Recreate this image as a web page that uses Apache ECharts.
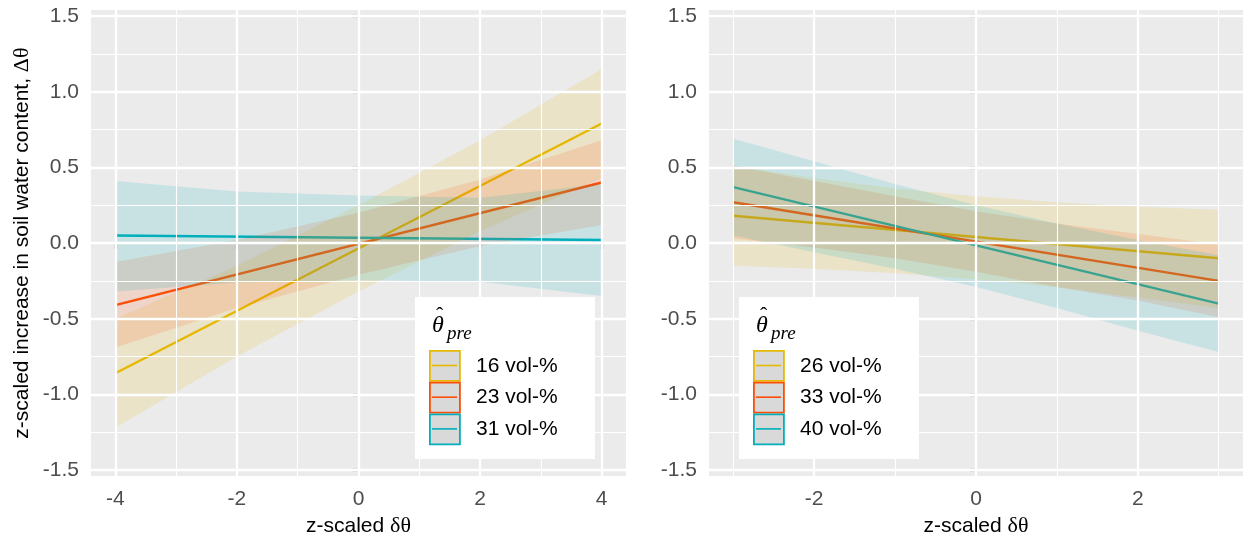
<!DOCTYPE html>
<html>
<head>
<meta charset="utf-8">
<script src="https://cdn.jsdelivr.net/npm/echarts@6/dist/echarts.min.js"></script>
<style>
html,body{margin:0;padding:0;background:#fff;}
#chart{width:1244px;height:542px;}
</style>
</head>
<body>
<div id="chart"></div>
<script>
// ---------------- data ----------------
const yTicks = [-1.5, -1.0, -0.5, 0.0, 0.5, 1.0, 1.5];
const yMinor = [-1.25, -0.75, -0.25, 0.25, 0.75, 1.25];
const leftXTicks = [-4, -2, 0, 2, 4];
const leftXMinor = [-3, -1, 1, 3];
const rightXTicks = [-2, 0, 2];
const rightXMinor = [-3, -1, 1, 3];

const leftNames = ['16 vol-%', '23 vol-%', '31 vol-%'];
const rightNames = ['26 vol-%', '33 vol-%', '40 vol-%'];
const colors = ['#E7B800', '#FC4E07', '#00AFBB'];

// left panel: fitted lines (end points) and confidence ribbons
const leftLineX = [-4, 4];
const left16 = [-0.86, 0.79];
const left23 = [-0.41, 0.40];
const left31 = [0.05, 0.02];
const leftRibX = [-4, -2, 0, 2, 4];
const left16Lo = [-1.22, -0.75, -0.32, 0.08, 0.43];
const left16Hi = [-0.50, -0.15, 0.25, 0.68, 1.15];
const left23Lo = [-0.69, -0.43, -0.21, -0.02, 0.12];
const left23Hi = [-0.125, 0.02, 0.20, 0.42, 0.68];
const left31Lo = [-0.32, -0.26, -0.245, -0.255, -0.35];
const left31Hi = [0.41, 0.34, 0.315, 0.30, 0.39];

// right panel
const rightLineX = [-3, 3];
const right26 = [0.18, -0.10];
const right33 = [0.27, -0.25];
const right40 = [0.37, -0.40];
const rightRibX = [-3, -2, -1, 0, 1, 2, 3];
const right26Lo = [-0.15, -0.17, -0.20, -0.24, -0.29, -0.36, -0.43];
const right26Hi = [0.51, 0.43, 0.36, 0.31, 0.27, 0.24, 0.22];
const right33Lo = [0.03, -0.03, -0.10, -0.19, -0.29, -0.38, -0.49];
const right33Hi = [0.51, 0.41, 0.31, 0.21, 0.13, 0.06, -0.01];
const right40Lo = [0.05, -0.06, -0.17, -0.29, -0.43, -0.58, -0.72];
const right40Hi = [0.69, 0.54, 0.39, 0.25, 0.13, 0.02, -0.08];

// ---------------- helpers ----------------
const FONT = '"Liberation Sans", Arial, Helvetica, sans-serif';
const SERIF = '"Liberation Serif", "Times New Roman", serif';
function rgba(hex, a) {
  const n = parseInt(hex.slice(1), 16);
  return 'rgba(' + ((n >> 16) & 255) + ',' + ((n >> 8) & 255) + ',' + (n & 255) + ',' + a + ')';
}
function lineSeries(name, xs, ys, color, gi) {
  return {
    type: 'line', name: name, xAxisIndex: gi, yAxisIndex: gi, z: 2,
    data: xs.map((x, i) => [x, ys[i]]),
    showSymbol: false, silent: true, animation: false,
    lineStyle: { color: color, width: 2.4 }, itemStyle: { color: color }
  };
}
function ribbonSeries(xs, lo, hi, color, gi) {
  return {
    type: 'custom', xAxisIndex: gi, yAxisIndex: gi, z: 3, silent: true, animation: false,
    data: xs.map((x, i) => [x, lo[i], hi[i]]),
    encode: { x: 0, y: [1, 2] },
    renderItem: function (params, api) {
      if (params.dataIndex !== 0) return;
      const pts = [];
      for (let i = 0; i < xs.length; i++) pts.push(api.coord([xs[i], hi[i]]));
      for (let i = xs.length - 1; i >= 0; i--) pts.push(api.coord([xs[i], lo[i]]));
      return { type: 'polygon', shape: { points: pts }, style: { fill: rgba(color, 0.15) } };
    }
  };
}
function gridSeries(gi, xMajor, xMinor) {
  const maj = { color: '#FFFFFF', width: 2.3, type: 'solid' };
  const min = { color: '#FFFFFF', width: 1.1, type: 'solid' };
  const d = [];
  yMinor.forEach(v => d.push({ yAxis: v, lineStyle: min }));
  xMinor.forEach(v => d.push({ xAxis: v, lineStyle: min }));
  yTicks.forEach(v => d.push({ yAxis: v, lineStyle: maj }));
  xMajor.forEach(v => d.push({ xAxis: v, lineStyle: maj }));
  return {
    type: 'line', xAxisIndex: gi, yAxisIndex: gi, z: 1, silent: true, animation: false,
    data: [[0, 0]], showSymbol: false, lineStyle: { opacity: 0 },
    markLine: { silent: true, symbol: ['none', 'none'], label: { show: false }, animation: false, data: d }
  };
}
const titleRich = {
  s: { color: '#000', fontSize: 21, fontFamily: FONT },
  g: { color: '#000', fontSize: 22, fontFamily: SERIF }
};
function xAxis(gi, min, max, ticks) {
  return {
    type: 'value', gridIndex: gi, min: min, max: max,
    name: '{s|z-scaled }{g|δθ}', nameLocation: 'middle', nameGap: 30,
    nameTextStyle: { color: '#000', fontSize: 21, fontFamily: FONT, rich: titleRich },
    axisLine: { show: false },
    axisTick: { show: true, customValues: ticks, length: 6, lineStyle: { color: '#333333', width: 2.2 } },
    axisLabel: { customValues: ticks, color: '#4D4D4D', fontSize: 21, fontFamily: FONT, margin: 13 },
    splitLine: { show: false }
  };
}
function yAxis(gi, withName) {
  const a = {
    type: 'value', gridIndex: gi, min: -1.54, max: 1.54,
    axisLine: { show: false },
    axisTick: { show: true, customValues: yTicks, length: 6, lineStyle: { color: '#333333', width: 2.2 } },
    axisLabel: { customValues: yTicks, color: '#4D4D4D', fontSize: 21, fontFamily: FONT, margin: 12,
      formatter: v => v.toFixed(1) },
    splitLine: { show: false }
  };
  if (withName) {
    a.name = '{s|z-scaled increase in soil water content, }{g|Δθ}';
    a.nameLocation = 'middle';
    a.nameGap = 58;
    a.nameTextStyle = { color: '#000', fontSize: 21, fontFamily: FONT, rich: titleRich };
  }
  return a;
}
function legendGraphics(x0, names) {
  const g = [];
  g.push({ type: 'rect', left: x0, top: 297, shape: { width: 180, height: 162 }, style: { fill: '#FFFFFF' }, z: 100 });
  g.push({ type: 'text', x: x0 + 17, y: 326, z: 101,
    style: { text: 'θ', font: 'italic 24px ' + SERIF, fill: '#000', textVerticalAlign: 'middle' } });
  g.push({ type: 'text', x: x0 + 21, y: 316, z: 101,
    style: { text: 'ˆ', font: '22px ' + SERIF, fill: '#000', textVerticalAlign: 'middle' } });
  g.push({ type: 'text', x: x0 + 32, y: 334, z: 101,
    style: { text: 'pre', font: 'italic 19px ' + SERIF, fill: '#000', textVerticalAlign: 'middle' } });
  const keyTops = [350, 381.7, 413.4];
  names.forEach((nm, i) => {
    const t = keyTops[i];
    g.push({ type: 'rect', left: x0 + 14, top: t, z: 101,
      shape: { width: 30, height: 30 }, style: { fill: '#D9D9D9', stroke: colors[i], lineWidth: 1.8 } });
    g.push({ type: 'line', z: 102, shape: { x1: x0 + 17, y1: t + 15.5, x2: x0 + 42, y2: t + 15.5 },
      style: { stroke: colors[i], lineWidth: 1.6 } });
    g.push({ type: 'text', x: x0 + 61, y: t + 16, z: 101,
      style: { text: nm, font: '21px ' + FONT, fill: '#000', textVerticalAlign: 'middle' } });
  });
  return g;
}

// ---------------- chart ----------------
const chart = echarts.init(document.getElementById('chart'));
const option = {
  animation: false,
  backgroundColor: '#FFFFFF',
  textStyle: { fontFamily: FONT },
  grid: [
    { left: 91, top: 10, width: 535, height: 470, show: true, backgroundColor: '#EBEBEB', borderWidth: 0, containLabel: false },
    { left: 709, top: 10, width: 534, height: 470, show: true, backgroundColor: '#EBEBEB', borderWidth: 0, containLabel: false }
  ],
  xAxis: [xAxis(0, -4.4, 4.4, leftXTicks), xAxis(1, -3.3, 3.3, rightXTicks)],
  yAxis: [yAxis(0, true), yAxis(1, false)],
  series: [
    gridSeries(0, leftXTicks, leftXMinor),
    gridSeries(1, rightXTicks, rightXMinor),
    lineSeries(leftNames[0], leftLineX, left16, colors[0], 0),
    lineSeries(leftNames[1], leftLineX, left23, colors[1], 0),
    lineSeries(leftNames[2], leftLineX, left31, colors[2], 0),
    lineSeries(rightNames[0], rightLineX, right26, colors[0], 1),
    lineSeries(rightNames[1], rightLineX, right33, colors[1], 1),
    lineSeries(rightNames[2], rightLineX, right40, colors[2], 1),
    ribbonSeries(leftRibX, left16Lo, left16Hi, colors[0], 0),
    ribbonSeries(leftRibX, left23Lo, left23Hi, colors[1], 0),
    ribbonSeries(leftRibX, left31Lo, left31Hi, colors[2], 0),
    ribbonSeries(rightRibX, right26Lo, right26Hi, colors[0], 1),
    ribbonSeries(rightRibX, right33Lo, right33Hi, colors[1], 1),
    ribbonSeries(rightRibX, right40Lo, right40Hi, colors[2], 1)
  ],
  graphic: legendGraphics(415, leftNames).concat(legendGraphics(739, rightNames))
};
chart.setOption(option);
</script>
</body>
</html>
